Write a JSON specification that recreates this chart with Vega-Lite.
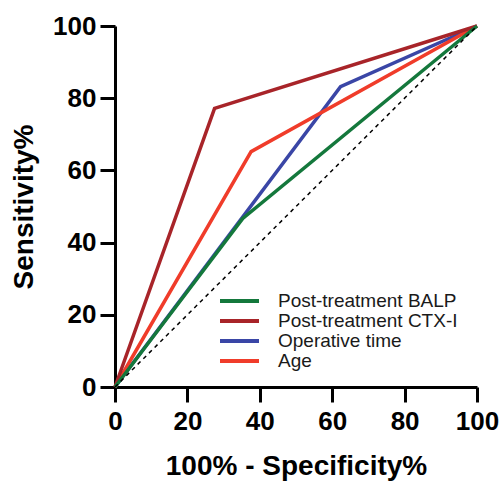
{
  "$schema": "https://vega.github.io/schema/vega-lite/v6.json",
  "width": 362,
  "height": 361,
  "autosize": {"type": "none"},
  "padding": {"left": 115, "top": 26, "right": 24, "bottom": 95},
  "background": "white",
  "config": {
    "font": "Liberation Sans",
    "view": {"stroke": null},
    "axis": {
      "grid": false,
      "domainColor": "black",
      "domainWidth": 3,
      "tickColor": "black",
      "tickWidth": 3,
      "tickSize": 15,
      "labelFlush": false,
      "labelOverlap": false,
      "labelFont": "Liberation Sans",
      "labelFontSize": 26,
      "labelFontWeight": "bold",
      "labelColor": "black",
      "titleFont": "Liberation Sans",
      "titleFontSize": 28,
      "titleFontWeight": "bold",
      "titleColor": "black"
    }
  },
  "layer": [
    {
      "data": {
        "values": [
          {"curve": "Operative time", "step": 0, "fpr": 0, "tpr": 0},
          {"curve": "Operative time", "step": 1, "fpr": 62.3, "tpr": 83.2},
          {"curve": "Operative time", "step": 2, "fpr": 100, "tpr": 100},
          {"curve": "Age", "step": 0, "fpr": 0, "tpr": 0},
          {"curve": "Age", "step": 1, "fpr": 37.6, "tpr": 65.2},
          {"curve": "Age", "step": 2, "fpr": 100, "tpr": 100},
          {"curve": "Post-treatment CTX-I", "step": 0, "fpr": 0, "tpr": 0},
          {"curve": "Post-treatment CTX-I", "step": 1, "fpr": 27.5, "tpr": 77.2},
          {"curve": "Post-treatment CTX-I", "step": 2, "fpr": 100, "tpr": 100},
          {"curve": "Post-treatment BALP", "step": 0, "fpr": 0, "tpr": 0},
          {"curve": "Post-treatment BALP", "step": 1, "fpr": 35.3, "tpr": 46.7},
          {"curve": "Post-treatment BALP", "step": 2, "fpr": 100, "tpr": 100}
        ]
      },
      "mark": {"type": "line", "strokeWidth": 3.5, "strokeJoin": "miter"},
      "encoding": {
        "x": {
          "field": "fpr", "type": "quantitative",
          "scale": {"domain": [0, 100], "nice": false},
          "axis": {"values": [0, 20, 40, 60, 80, 100], "title": "100% - Specificity%", "labelPadding": 6, "titlePadding": 18}
        },
        "y": {
          "field": "tpr", "type": "quantitative",
          "scale": {"domain": [0, 100], "nice": false},
          "axis": {"values": [0, 20, 40, 60, 80, 100], "title": "Sensitivity%", "labelPadding": 4, "titlePadding": 14}
        },
        "order": {"field": "step"},
        "color": {
          "field": "curve", "type": "nominal",
          "scale": {
            "domain": ["Post-treatment BALP", "Post-treatment CTX-I", "Operative time", "Age"],
            "range": ["#14783c", "#a82429", "#3a46a6", "#f03c2a"]
          },
          "legend": {
            "title": null,
            "orient": "none",
            "legendX": 103,
            "legendY": 265,
            "padding": 0,
            "symbolType": "stroke",
            "symbolSize": 1521,
            "symbolStrokeWidth": 4,
            "clipHeight": 20,
            "rowPadding": 0,
            "labelOffset": 17,
            "labelFont": "Liberation Sans",
            "labelFontSize": 19,
            "labelColor": "#1a1a1a",
            "labelLimit": 400
          }
        }
      }
    },
    {
      "data": {"values": [{"fpr": 0, "tpr": 0}, {"fpr": 100, "tpr": 100}]},
      "mark": {"type": "line", "color": "black", "strokeDash": [4, 4], "strokeWidth": 1.5},
      "encoding": {
        "x": {"field": "fpr", "type": "quantitative"},
        "y": {"field": "tpr", "type": "quantitative"}
      }
    }
  ]
}
